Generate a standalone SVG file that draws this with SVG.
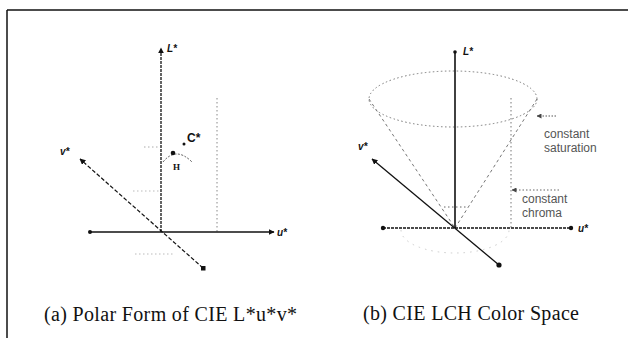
<svg xmlns="http://www.w3.org/2000/svg" width="628" height="348" viewBox="0 0 628 348">
<style>
.ax{fill:none;stroke:#111}
.faint{fill:none;stroke:#999;stroke-width:1;stroke-dasharray:1.5 2.5}
.lab{font-family:"Liberation Sans",Arial,sans-serif;font-style:italic;font-weight:bold;font-size:10px;fill:#111}
.note{font-family:"Liberation Sans",Arial,sans-serif;font-size:12px;fill:#555}
.cap{font-family:"Liberation Serif","Times New Roman",serif;font-size:20px;fill:#111}
</style>
<defs>
<marker id="arr" viewBox="0 0 10 10" refX="9" refY="5" markerWidth="6" markerHeight="6" orient="auto" markerUnits="userSpaceOnUse">
<path d="M0,0 L10,5 L0,10 z" fill="#111"/>
</marker>
<marker id="arrg" viewBox="0 0 10 10" refX="9" refY="5" markerWidth="5" markerHeight="5" orient="auto" markerUnits="userSpaceOnUse">
<path d="M0,0 L10,5 L0,10 z" fill="#444"/>
</marker>
</defs>
<g id="frame" stroke="#111" stroke-width="1.5" fill="none">
<line x1="7" y1="10" x2="628" y2="10"/>
<line x1="7" y1="10" x2="7" y2="338"/>
</g>
<g id="panel-a">
<g class="connectors">
<line class="faint" x1="217" y1="98" x2="217" y2="232" style="stroke:#888"/>
<line class="faint" x1="133" y1="191" x2="160" y2="191" style="stroke:#bbb"/>
<line class="faint" x1="135" y1="254" x2="175" y2="254" style="stroke:#bbb"/>
<line class="faint" x1="144" y1="147" x2="160" y2="147" style="stroke:#aaa"/>
<line class="ax" x1="161" y1="232" x2="161" y2="48" stroke="#333" stroke-width="1.3" stroke-dasharray="3 1" marker-end="url(#arr)"/>
<line class="ax" x1="90" y1="232" x2="274" y2="232" stroke-width="1.5" marker-end="url(#arr)"/>
<line class="ax" x1="203" y1="268" x2="80" y2="159" stroke="#555" stroke-width="1.2" stroke-dasharray="4 2" marker-end="url(#arr)"/>
<path d="M163 162 Q176 146 192 162" fill="none" stroke="#555" stroke-width="1" stroke-dasharray="2 1.5"/>
</g>
<circle cx="90" cy="232" r="2" fill="#111"/>
<rect x="201" y="266" width="4.5" height="4.5" fill="#111"/>
<circle cx="173" cy="153" r="2.3" fill="#111"/>
<circle cx="184" cy="144" r="1.5" fill="#111"/>
<text class="lab" x="167" y="52">L*</text>
<text class="lab" x="277" y="236">u*</text>
<text class="lab" x="60" y="155">v*</text>
<text x="187" y="142" font-family="Liberation Sans,Arial,sans-serif" font-weight="bold" font-size="12" fill="#111">C*</text>
<text x="173" y="170" font-family="Liberation Serif,serif" font-weight="bold" font-size="9" fill="#111">H</text>
</g>
<g id="panel-b">
<g class="connectors">
<ellipse cx="453" cy="99" rx="84" ry="28" fill="none" stroke="#777" stroke-width="1" stroke-dasharray="1.5 2.5"/>
<path d="M401 230 A54 23 0 0 0 509 230" fill="none" stroke="#ccc" stroke-width="1" stroke-dasharray="1.5 5"/>
<line x1="369" y1="99" x2="455" y2="228" stroke="#777" stroke-width="1" stroke-dasharray="3 3"/>
<line x1="537" y1="99" x2="455" y2="228" stroke="#777" stroke-width="1" stroke-dasharray="3 3"/>
<line class="faint" x1="511" y1="98" x2="511" y2="228" style="stroke:#777"/>
<line class="faint" x1="444" y1="207" x2="468" y2="207" style="stroke:#666"/>
<line class="ax" x1="455" y1="228" x2="455" y2="52" stroke-width="1.6"/>
<line class="ax" x1="383" y1="228" x2="571" y2="228" stroke-width="1.4" stroke-dasharray="3 1"/>
<line class="ax" x1="499" y1="265" x2="372" y2="159" stroke-width="1.3" marker-end="url(#arr)"/>
<line x1="556" y1="116" x2="537" y2="116" stroke="#555" stroke-width="1" stroke-dasharray="1.5 1.5" marker-end="url(#arrg)"/>
<line x1="559" y1="190" x2="512" y2="190" stroke="#666" stroke-width="1" stroke-dasharray="1.5 2" marker-end="url(#arrg)"/>
</g>
<circle cx="455" cy="52" r="1.8" fill="#111"/>
<circle cx="383" cy="228" r="2.2" fill="#111"/>
<circle cx="571" cy="228" r="2.2" fill="#111"/>
<circle cx="499" cy="265" r="2.6" fill="#111"/>
<text class="lab" x="463" y="55">L*</text>
<text class="lab" x="578" y="232">u*</text>
<text class="lab" x="358" y="150">v*</text>
<text class="note" x="544" y="138">constant</text>
<text class="note" x="544" y="152">saturation</text>
<text class="note" x="522" y="203">constant</text>
<text class="note" x="522" y="217">chroma</text>
</g>
<g id="captions">
<text class="cap" x="44" y="321" textLength="253" lengthAdjust="spacing">(a) Polar Form of CIE L*u*v*</text>
<text class="cap" x="363" y="320" textLength="216" lengthAdjust="spacing">(b) CIE LCH Color Space</text>
</g>
</svg>
